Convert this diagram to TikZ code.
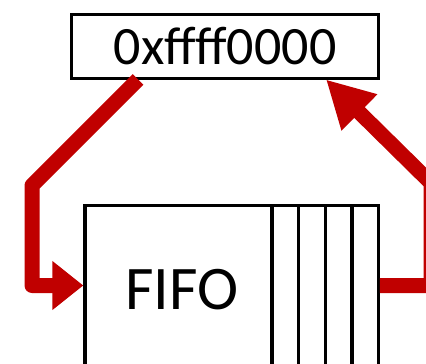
\documentclass[tikz,border=0pt]{standalone}
\usepackage{fontspec}
\setmainfont{Carlito}
\usetikzlibrary{arrows.meta}
\definecolor{fifored}{RGB}{192,0,0}

\tikzset{
  box/.style={draw, line width=3pt, inner sep=0pt},
  flow/.style={draw=fifored, line width=15pt, line join=round}
}

\begin{document}
\begin{tikzpicture}[x=1pt, y=-1pt]
    \useasboundingbox (0,0) rectangle (426,364);
    \clip (0,0) rectangle (426,364);

    % Boxes
    \node[box, minimum width=307.4pt, minimum height=64pt, font=\fontsize{54}{60}\selectfont] (addr) at (225,46) {0xffff0000};
    \node[box, line width=3.3pt, minimum width=293.3pt, minimum height=194.3pt] (fifo) at (231.65,302.85) {};
    \node[font=\fontsize{62}{70}\selectfont] (fifolabel) at (182,290) {FIFO};

    % Slots
    \foreach \x in {272,298.7,325.3,352}
        \draw[line width=3.3pt] (\x,205.7) -- (\x,400);

    % Arrows
    \coordinate (row) at (0,285.5);
    \draw[flow, -{Triangle[length=31pt, width=47pt]}] ([xshift=-87pt]addr.south) -- (32,185.5) -- (32,285.5) -- (fifo.west |- row);
    \draw[flow, -{Triangle[length=47pt, width=47.6pt]}] (fifo.east |- row) -- (431,285.5) -- (431,183) -- ([xshift=101pt]addr.south);
\end{tikzpicture}
\end{document}
